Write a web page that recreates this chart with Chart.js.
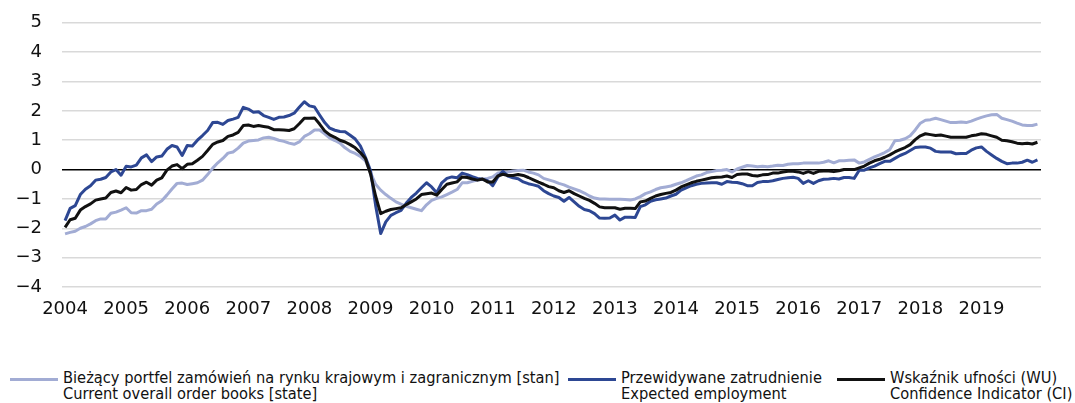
<!DOCTYPE html>
<html>
<head>
<meta charset="utf-8">
<script src="https://cdn.jsdelivr.net/npm/chart.js@4"></script>
<style>
  html, body { margin: 0; padding: 0; background: #fff; }
  #wrap { position: relative; width: 1075px; height: 403px; overflow: hidden; }
  #chart { position: absolute; left: 0; top: -8px; }
  .item { position: absolute; top: 370px; display: flex; align-items: flex-start;
          font-family: "DejaVu Sans Condensed", "DejaVu Sans", sans-serif; font-stretch: condensed;
          font-size: 16.3px; line-height: 15.5px; color: #111; }
  .mark { width: 48px; height: 3px; margin-top: 8px; margin-right: 5px; }
</style>
</head>
<body>
<div id="wrap">
  <canvas id="chart" width="1075" height="338"></canvas>
  <div class="item" style="left:10px"><span class="mark" style="background:#a2acd4"></span>
    <span>Bieżący portfel zamówień na rynku krajowym i zagranicznym [stan]<br>Current overall order books [state]</span></div>
  <div class="item" style="left:568px"><span class="mark" style="background:#2d4793"></span>
    <span>Przewidywane zatrudnienie<br>Expected employment</span></div>
  <div class="item" style="left:837px"><span class="mark" style="background:#111"></span>
    <span>Wskaźnik ufności (WU)<br>Confidence Indicator (CI)</span></div>
</div>
<script>
// lata na osi X (etykieta co 12 miesięcy, od stycznia 2004)
const years = ['2004','2005','2006','2007','2008','2009','2010','2011','2012','2013','2014','2015','2016','2017','2018','2019'];

// Bieżący portfel zamówień [stan], miesięcznie 2004-2019
const orderBooks = [
  -2.19,-2.14,-2.10,-2.00,-1.94,-1.85,-1.74,-1.68,-1.68,-1.49,-1.45,-1.38,
  -1.30,-1.47,-1.48,-1.40,-1.40,-1.35,-1.17,-1.06,-0.87,-0.66,-0.47,-0.46,
  -0.51,-0.48,-0.45,-0.36,-0.17,0.05,0.23,0.38,0.56,0.60,0.73,0.90,
  0.97,0.99,1.01,1.08,1.10,1.06,1.00,0.96,0.90,0.86,0.94,1.13,
  1.22,1.35,1.35,1.22,1.07,0.99,0.90,0.74,0.62,0.55,0.45,0.30,
  -0.10,-0.50,-0.70,-0.85,-0.98,-1.10,-1.18,-1.25,-1.30,-1.35,-1.40,-1.20,
  -1.05,-0.98,-0.93,-0.85,-0.77,-0.68,-0.45,-0.45,-0.40,-0.36,-0.33,-0.30,
  -0.25,-0.12,-0.10,-0.08,-0.05,-0.03,-0.02,-0.08,-0.12,-0.18,-0.30,-0.35,
  -0.40,-0.47,-0.52,-0.60,-0.66,-0.72,-0.80,-0.90,-0.97,-1.00,-1.00,-1.01,
  -1.01,-1.01,-1.02,-1.04,-1.00,-0.92,-0.82,-0.76,-0.68,-0.62,-0.59,-0.56,
  -0.50,-0.45,-0.38,-0.30,-0.22,-0.18,-0.10,-0.07,-0.03,-0.02,0.00,-0.08,
  0.02,0.08,0.14,0.12,0.10,0.11,0.10,0.12,0.15,0.14,0.18,0.20,
  0.20,0.22,0.22,0.22,0.22,0.25,0.30,0.23,0.30,0.30,0.32,0.33,
  0.22,0.26,0.35,0.43,0.50,0.58,0.68,0.98,1.00,1.05,1.15,1.35,
  1.58,1.68,1.70,1.75,1.70,1.65,1.60,1.60,1.62,1.60,1.65,1.72,
  1.78,1.83,1.87,1.88,1.75,1.70,1.65,1.58,1.52,1.50,1.50,1.55
];

// Przewidywane zatrudnienie
const employment = [
  -1.74,-1.32,-1.23,-0.85,-0.67,-0.55,-0.36,-0.33,-0.27,-0.08,0.00,-0.19,
  0.11,0.09,0.15,0.40,0.50,0.27,0.43,0.46,0.69,0.82,0.77,0.48,
  0.82,0.80,1.00,1.16,1.33,1.60,1.61,1.54,1.67,1.72,1.78,2.12,
  2.06,1.95,1.97,1.84,1.78,1.71,1.78,1.79,1.84,1.92,2.12,2.31,
  2.17,2.13,1.86,1.60,1.41,1.34,1.30,1.29,1.17,1.04,0.81,0.42,
  -0.03,-1.22,-2.18,-1.78,-1.56,-1.47,-1.39,-1.15,-0.95,-0.80,-0.62,-0.45,
  -0.59,-0.79,-0.45,-0.30,-0.25,-0.28,-0.12,-0.17,-0.24,-0.30,-0.33,-0.38,
  -0.55,-0.25,-0.06,-0.22,-0.28,-0.31,-0.42,-0.48,-0.52,-0.57,-0.72,-0.82,
  -0.90,-0.95,-1.08,-0.95,-1.10,-1.25,-1.36,-1.40,-1.50,-1.65,-1.66,-1.65,
  -1.55,-1.72,-1.62,-1.62,-1.63,-1.26,-1.20,-1.08,-1.03,-1.00,-0.97,-0.90,
  -0.84,-0.70,-0.62,-0.55,-0.50,-0.47,-0.46,-0.45,-0.45,-0.50,-0.41,-0.43,
  -0.44,-0.48,-0.55,-0.55,-0.44,-0.41,-0.41,-0.38,-0.34,-0.30,-0.28,-0.26,
  -0.30,-0.47,-0.38,-0.47,-0.38,-0.33,-0.32,-0.30,-0.32,-0.27,-0.27,-0.30,
  -0.02,-0.02,0.06,0.12,0.20,0.28,0.28,0.38,0.48,0.55,0.65,0.75,
  0.77,0.77,0.73,0.62,0.60,0.60,0.60,0.54,0.55,0.55,0.66,0.74,
  0.77,0.62,0.50,0.38,0.28,0.20,0.22,0.22,0.25,0.32,0.25,0.33
];

// Wskaźnik ufności (WU)
const confidence = [
  -1.97,-1.71,-1.66,-1.38,-1.26,-1.17,-1.04,-1.00,-0.97,-0.78,-0.73,-0.79,
  -0.61,-0.70,-0.68,-0.51,-0.43,-0.53,-0.36,-0.28,-0.02,0.12,0.17,0.03,
  0.18,0.20,0.32,0.45,0.65,0.86,0.94,0.99,1.13,1.18,1.27,1.50,
  1.52,1.47,1.50,1.47,1.44,1.36,1.36,1.35,1.33,1.39,1.56,1.75,
  1.75,1.76,1.55,1.32,1.18,1.10,1.00,0.94,0.85,0.74,0.58,0.38,
  -0.15,-0.90,-1.50,-1.42,-1.36,-1.33,-1.30,-1.20,-1.10,-1.00,-0.85,-0.82,
  -0.80,-0.87,-0.68,-0.50,-0.46,-0.42,-0.25,-0.27,-0.32,-0.36,-0.32,-0.42,
  -0.42,-0.22,-0.16,-0.20,-0.20,-0.17,-0.20,-0.27,-0.35,-0.43,-0.50,-0.58,
  -0.62,-0.72,-0.78,-0.72,-0.82,-0.90,-0.98,-1.05,-1.15,-1.27,-1.30,-1.30,
  -1.30,-1.35,-1.32,-1.32,-1.33,-1.10,-1.07,-0.98,-0.90,-0.85,-0.81,-0.78,
  -0.70,-0.59,-0.52,-0.45,-0.40,-0.36,-0.32,-0.28,-0.26,-0.25,-0.22,-0.27,
  -0.17,-0.15,-0.15,-0.20,-0.22,-0.18,-0.17,-0.12,-0.12,-0.08,-0.06,-0.06,
  -0.08,-0.13,-0.07,-0.13,-0.06,-0.05,-0.05,-0.07,-0.04,0.00,0.00,0.00,
  0.06,0.12,0.22,0.30,0.35,0.42,0.50,0.60,0.68,0.75,0.85,1.02,
  1.15,1.22,1.19,1.16,1.18,1.14,1.10,1.10,1.10,1.10,1.15,1.18,
  1.22,1.20,1.15,1.10,1.00,0.98,0.95,0.90,0.88,0.90,0.87,0.93
];

const yTicks = [-4, -3, -2, -1, 0, 1, 2, 3, 4, 5];

const toPoints = arr => arr.map((v, i) => ({ x: i, y: v }));

const tickFont = { family: '"DejaVu Sans", sans-serif', size: 18 };

const ctx = document.getElementById('chart').getContext('2d');
new Chart(ctx, {
  type: 'line',
  data: {
    datasets: [
      { label: 'Wskaźnik ufności (WU)', data: toPoints(confidence), borderColor: '#111111', order: 0 },
      { label: 'Przewidywane zatrudnienie', data: toPoints(employment), borderColor: '#2d4793', order: 1 },
      { label: 'Bieżący portfel zamówień', data: toPoints(orderBooks), borderColor: '#a2acd4', order: 2 }
    ]
  },
  options: {
    responsive: false,
    animation: false,
    elements: {
      line: { borderWidth: 3, tension: 0, borderJoinStyle: 'round' },
      point: { radius: 0 }
    },
    layout: { autoPadding: false, padding: { top: 0, right: 34, bottom: 3, left: 0 } },
    plugins: { legend: { display: false }, tooltip: { enabled: false } },
    scales: {
      x: {
        type: 'linear',
        min: -0.6,
        max: 191.7,
        afterBuildTicks: s => { s.ticks = years.map((y, i) => ({ value: i * 12 })); },
        afterFit: s => { s.height = 40; },
        grid: { display: false },
        border: { display: false },
        ticks: {
          autoSkip: false, maxRotation: 0, padding: 4, color: '#111', font: tickFont,
          callback: (v, i) => years[i]
        }
      },
      y: {
        min: -4,
        max: 5,
        afterBuildTicks: s => { s.ticks = yTicks.map(v => ({ value: v })); },
        afterFit: s => { s.width = 62; },
        border: { display: false },
        grid: {
          drawTicks: false,
          color: c => c.tick.value === 0 ? '#000000' : '#d9d9d9',
          lineWidth: 1.5
        },
        ticks: {
          padding: 20, color: '#111', font: tickFont,
          callback: v => String(v).replace('-', '\u2212')
        }
      }
    }
  }
});
</script>
</body>
</html>
